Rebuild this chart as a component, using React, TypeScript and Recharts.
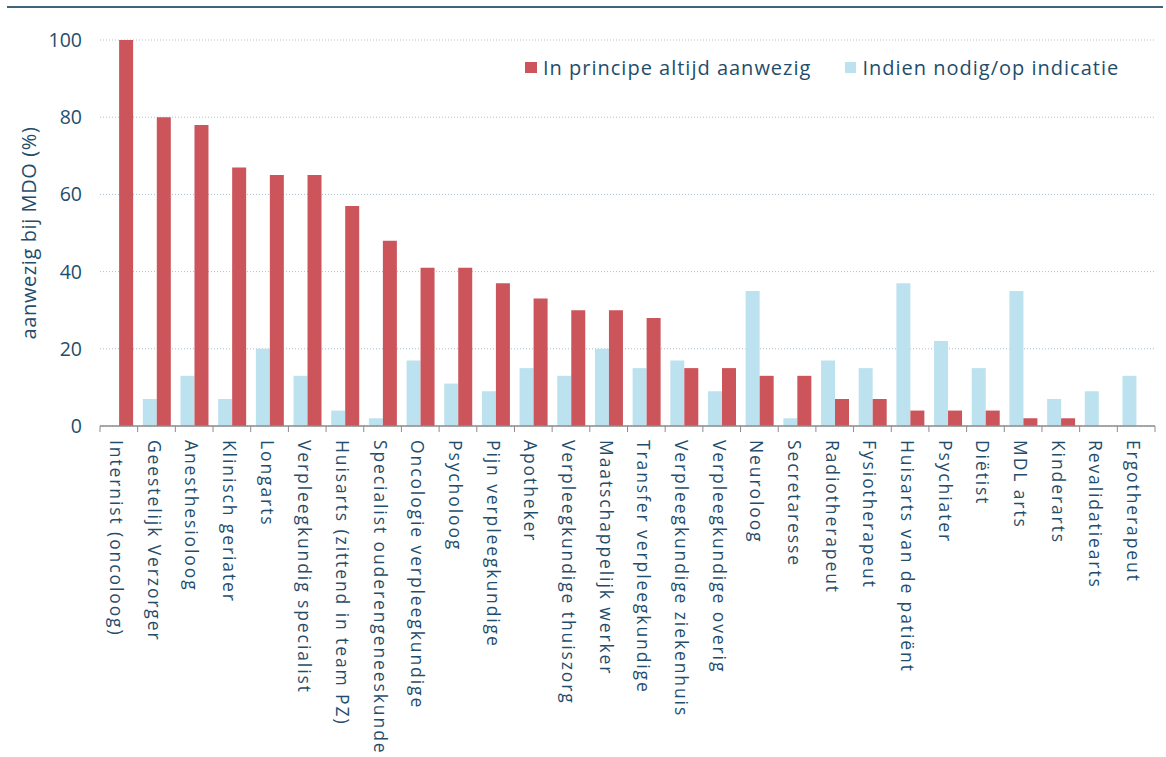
import React from "react";
import { BarChart, Bar, XAxis, YAxis, CartesianGrid, Legend } from "recharts";

const categories = [
  "Internist (oncoloog)",
  "Geestelijk Verzorger",
  "Anesthesioloog",
  "Klinisch geriater",
  "Longarts",
  "Verpleegkundig specialist",
  "Huisarts (zittend in team PZ)",
  "Specialist ouderengeneeskunde",
  "Oncologie verpleegkundige",
  "Psycholoog",
  "Pijn verpleegkundige",
  "Apotheker",
  "Verpleegkundige thuiszorg",
  "Maatschappelijk werker",
  "Transfer verpleegkundige",
  "Verpleegkundige ziekenhuis",
  "Verpleegkundige overig",
  "Neuroloog",
  "Secretaresse",
  "Radiotherapeut",
  "Fysiotherapeut",
  "Huisarts van de patiënt",
  "Psychiater",
  "Diëtist",
  "MDL arts",
  "Kinderarts",
  "Revalidatiearts",
  "Ergotherapeut",
];

const alwaysPresent = [100, 80, 78, 67, 65, 65, 57, 48, 41, 41, 37, 33, 30, 30, 28, 15, 15, 13, 13, 7, 7, 4, 4, 4, 2, 2, 0, 0];
const onIndication = [0, 7, 13, 7, 20, 13, 4, 2, 17, 11, 9, 15, 13, 20, 15, 17, 9, 35, 2, 17, 15, 37, 22, 15, 35, 7, 9, 13];

const yTicks = [0, 20, 40, 60, 80, 100];

const seriesAlways = "In principe altijd aanwezig";
const seriesIndication = "Indien nodig/op indicatie";

const data = categories.map((name, i) => ({
  name,
  always: alwaysPresent[i],
  indication: onIndication[i],
}));

const RED = "#cc545b";
const BLUE = "#bde2ef";
const TEXT = "#1f4d6b";
const FONT = "'Open Sans', sans-serif";

const PLOT_LEFT = 100;
const PLOT_RIGHT = 1155;
const BAND = (PLOT_RIGHT - PLOT_LEFT) / categories.length;

const XTick = (props: any) => {
  const { x, y, payload, index } = props;
  const last = index === categories.length - 1;
  return (
    <g>
      <line x1={x - BAND / 2} y1={y} x2={x - BAND / 2} y2={y + 6} stroke="#8c8c8c" strokeWidth={1} />
      {last && <line x1={x + BAND / 2} y1={y} x2={x + BAND / 2} y2={y + 6} stroke="#8c8c8c" strokeWidth={1} />}
      <text
        transform={`translate(${x - 2},${y + 14}) rotate(90)`}
        textAnchor="start"
        dominantBaseline="central"
        fontFamily={FONT}
        fontSize={17.5}
        letterSpacing={1.9}
        fill={TEXT}
      >
        {payload.value}
      </text>
    </g>
  );
};

const LegendContent = () => (
  <div style={{ display: "flex", alignItems: "center", fontFamily: FONT, fontSize: 20, letterSpacing: 1, color: TEXT, whiteSpace: "nowrap" }}>
    <span style={{ display: "inline-block", width: 12, height: 11, background: RED, marginRight: 6 }} />
    <span>{seriesAlways}</span>
    <span style={{ display: "inline-block", width: 11, height: 11, background: BLUE, marginLeft: 34, marginRight: 6 }} />
    <span>{seriesIndication}</span>
  </div>
);

export default function App() {
  return (
    <div style={{ position: "absolute", left: 0, top: 0, width: 1166, height: 757, background: "#fff" }}>
      <div style={{ position: "absolute", left: 7, top: 6, width: 1156, height: 2, background: "#3f6479" }} />
      <BarChart
        width={1166}
        height={757}
        data={data}
        margin={{ top: 40, right: 11, bottom: 11, left: 0 }}
        barCategoryGap="13.6%"
        barGap={0}
      >
        <CartesianGrid vertical={false} stroke="#a9bfd0" strokeDasharray="1 2" />
        <XAxis
          dataKey="name"
          interval={0}
          height={320}
          tickLine={false}
          tickSize={0}
          tickMargin={0}
          axisLine={{ stroke: "#8c8c8c", strokeWidth: 1.5 }}
          tick={<XTick />}
        />
        <YAxis
          width={100}
          domain={[0, 100]}
          ticks={yTicks}
          axisLine={false}
          tickLine={false}
          tick={{ fill: TEXT, fontSize: 19.5, fontFamily: FONT }}
          dx={-10}
          label={{
            value: "aanwezig bij MDO (%)",
            angle: -90,
            position: "center",
            dx: -21,
            style: { fill: TEXT, fontSize: 20, letterSpacing: 0.6, fontFamily: FONT, textAnchor: "middle" },
          }}
        />
        <Legend
          layout="horizontal"
          verticalAlign="middle"
          align="center"
          wrapperStyle={{ top: 54, left: 525, width: "auto" }}
          content={<LegendContent />}
        />
        <Bar dataKey="indication" name={seriesIndication} fill={BLUE} isAnimationActive={false} />
        <Bar dataKey="always" name={seriesAlways} fill={RED} isAnimationActive={false} />
      </BarChart>
    </div>
  );
}
